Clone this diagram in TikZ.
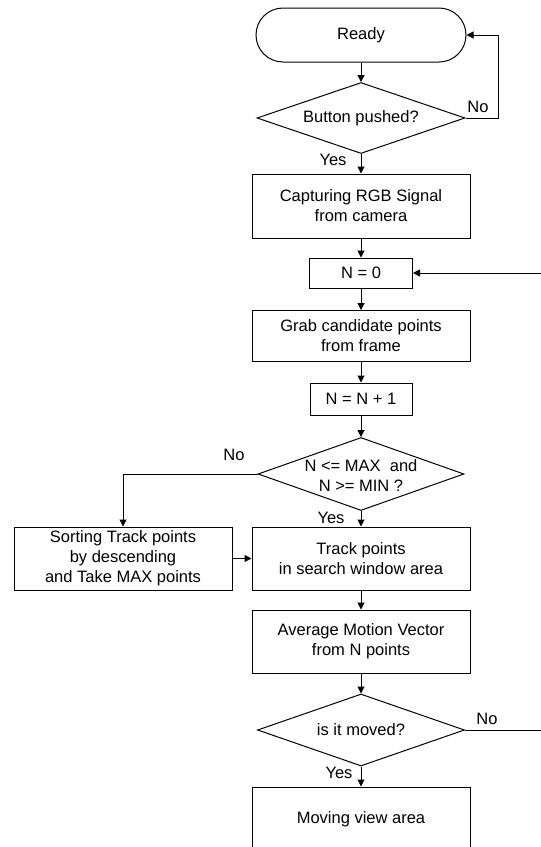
\documentclass[tikz,border=0pt]{standalone}
\usepackage{fontspec}
\setmainfont{Liberation Sans}
\usetikzlibrary{arrows.meta,shapes.geometric}
\begin{document}
\begin{tikzpicture}[x=1pt,y=-1pt,
  every node/.style={font=\fontsize{16.5}{20}\selectfont, text=black},
  box/.style={draw, line width=1pt, rectangle, minimum width=218pt, align=center, inner sep=0pt},
  dia/.style={draw, line width=1pt, diamond, inner sep=0pt},
  conn/.style={line width=1pt, -{Triangle[length=7pt,width=7pt]}},
  lbl/.style={inner sep=0pt, align=center}
]
\clip (0,0) rectangle (541,847);
\fill[white] (0,0) rectangle (541,847);

\node[draw, line width=1pt, rounded corners=27pt, minimum width=210pt, minimum height=54pt] (ready) at (361,35) {Ready};
\node[dia, minimum width=208pt, minimum height=71pt] (d1) at (361,118) {};
\node[lbl] (d1t) at (d1) {Button pushed?};
\node[box, minimum height=64pt] (cap) at (361,206) {Capturing RGB Signal\\from camera};
\node[box, minimum width=103pt, minimum height=30pt] (n0) at (361,273) {N = 0};
\node[box, minimum height=51pt] (grab) at (361,336) {Grab candidate points\\from frame};
\node[box, minimum width=102pt, minimum height=32pt] (inc) at (361,399) {N = N + 1};
\node[dia, minimum width=206pt, minimum height=73pt] (d2) at (361,474) {};
\node[lbl] (d2t) at (361,476) {N <= MAX\ \ and\\N >= MIN ?};
\node[box, minimum height=63pt] (track) at (361,558.5) {Track points\\in search window area};
\node[box, minimum height=63pt] (sort) at (123,558.5) {Sorting Track points\\by descending\\and Take MAX points};
\node[box, minimum height=63pt] (avg) at (361,641.5) {Average Motion Vector\\from N points};
\node[dia, minimum width=207pt, minimum height=72pt] (d3) at (361,730) {};
\node[lbl] (d3t) at (d3) {is it moved?};
\node[box, minimum height=64pt] (move) at (361,819) {Moving view area};

% labels
\node[lbl] (no1) at (478,107) {No};
\node[lbl] (yes1) at (333,160) {Yes};
\node[lbl] (no2) at (234,455) {No};
\node[lbl] (yes2) at (331,518) {Yes};
\node[lbl] (no3) at (487,719) {No};
\node[lbl] (yes3) at (339,773) {Yes};

% connectors
\draw[conn] (ready.south) -- (d1.north);
\draw[conn] (d1.east) -- ++(33,0) |- (ready.east);
\draw[conn] (d1.south) -- (cap.north);
\draw[conn] (cap.south) -- (n0.north);
\coordinate (r1) at (545,273);
\draw[conn] (r1) -- (n0.east);
\draw[conn] (n0.south) -- (grab.north);
\draw[conn] (grab.south) -- (inc.north);
\draw[conn] (inc.south) -- (d2.north);
\draw[conn] (d2.west) -| (sort.north);
\draw[conn] (d2.south) -- (track.north);
\draw[conn] (sort.east) -- (track.west);
\draw[conn] (track.south) -- (avg.north);
\draw[conn] (avg.south) -- (d3.north);
\draw[conn] (d3.south) -- (move.north);
\coordinate (r2) at (545,730);
\draw[line width=1pt] (d3.east) -- (r2);
\end{tikzpicture}
\end{document}
